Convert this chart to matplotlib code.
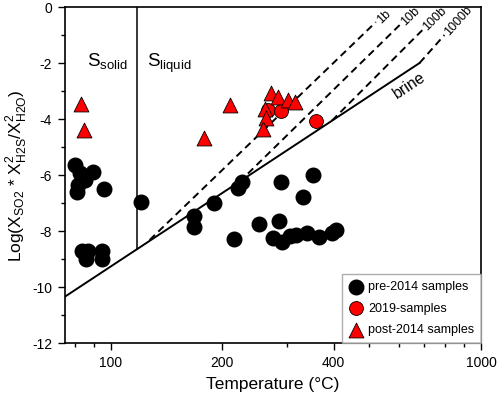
import numpy as np
import matplotlib
matplotlib.use("Agg")
import matplotlib.pyplot as plt
from matplotlib.ticker import FixedLocator, NullFormatter, MultipleLocator

plt.rcParams['font.family'] = ['Liberation Sans', 'DejaVu Sans']
plt.rcParams['mathtext.fontset'] = 'custom'
plt.rcParams['mathtext.rm'] = 'Liberation Sans'
plt.rcParams['axes.unicode_minus'] = False

# pre-2014 samples (T in degC, log value)
pre_T = [80.2, 82.7, 85.3, 89.6, 81.7, 81.2, 95.9,
         83.7, 86.9, 85.8, 94.8, 94.8,
         120.6, 167.5, 168.5, 190.7, 221.2, 226.8, 215.9,
         252.0, 285.2, 288.8, 330.9, 352.0,
         274.8, 290.6, 305.2, 316.8, 339.1, 365.2, 395.8, 405.7]
pre_v = [-5.63, -5.92, -6.17, -5.88, -6.35, -6.60, -6.49,
         -8.70, -8.70, -8.99, -8.70, -8.99,
         -6.95, -7.45, -7.85, -6.99, -6.45, -6.24, -8.28,
         -7.74, -7.63, -6.24, -6.78, -5.99,
         -8.24, -8.38, -8.17, -8.13, -8.06, -8.20, -8.06, -7.95]

# 2019 samples
s2019_T = [266.4, 288.8, 358.6]
s2019_v = [-3.67, -3.70, -4.06]

# post-2014 samples
post_T = [83.2, 84.8, 179.3, 210.6, 271.4, 283.4, 301.6, 314.9, 261.6, 263.2, 258.4]
post_v = [-3.45, -4.38, -4.67, -3.49, -3.06, -3.20, -3.31, -3.38, -3.63, -3.95, -4.35]

# brine line and pressure lines
brine_T = [75.2, 682.5]
brine_v = [-10.34, -1.99]
sulfur_melt_T = 118.0

press_lines = {
    '1b': ([127.5, 520.0], [-8.31, -0.53]),
    '10b': ([222.6, 606.8], [-6.24, -0.60]),
    '100b': ([395.8, 695.0], [-4.05, -0.81]),
    '1000b': ([682.5, 796.7], [-1.99, -0.99]),
}

fig = plt.figure(figsize=(4.98, 3.98), dpi=100)
ax = fig.add_axes([0.1299, 0.1374, 0.836, 0.8443])
ax.set_xscale('log')
ax.set_xlim(75.2, 1000)
ax.set_ylim(-12, 0)

# brine line
ax.plot(brine_T, brine_v, color='black', linewidth=1.4, zorder=2)

# solid/liquid boundary
melt_v = np.interp(np.log10(sulfur_melt_T), np.log10(brine_T), brine_v)
ax.plot([sulfur_melt_T, sulfur_melt_T], [0, melt_v], color='black', linewidth=1.1, zorder=2)

for name, (tt, vv) in press_lines.items():
    ax.plot(tt, vv, color='black', linewidth=1.4, linestyle=(0, (3.8, 2.4)), zorder=2)

fig.canvas.draw()
for name, (tt, vv) in press_lines.items():
    p0 = ax.transData.transform((tt[0], vv[0]))
    p1 = ax.transData.transform((tt[1], vv[1]))
    ang = np.degrees(np.arctan2(p1[1] - p0[1], p1[0] - p0[0]))
    ax.annotate(name, (tt[1], vv[1]), xytext=(2, 0.5), textcoords='offset points',
                rotation=ang, rotation_mode='anchor', ha='left', va='center', fontsize=9)

p0 = ax.transData.transform((brine_T[0], brine_v[0]))
p1 = ax.transData.transform((brine_T[1], brine_v[1]))
bang = np.degrees(np.arctan2(p1[1] - p0[1], p1[0] - p0[0]))
ax.text(640, -2.78, 'brine', rotation=bang, rotation_mode='anchor',
        ha='center', va='center', fontsize=11.5)

ax.text(86.4, -2.13, r'S$_{\mathregular{solid}}$', fontsize=13.5, ha='left', va='baseline')
ax.text(125.2, -2.13, r'S$_{\mathregular{liquid}}$', fontsize=13.5, ha='left', va='baseline')

ax.scatter(pre_T, pre_v, s=110, color='black', zorder=3, label='pre-2014 samples')
ax.scatter(s2019_T, s2019_v, s=100, color='red', edgecolors='black', linewidths=0.6,
           zorder=4, label='2019-samples')
ax.scatter(post_T, post_v, s=115, marker='^', color='red', edgecolors='black',
           linewidths=0.6, zorder=4, label='post-2014 samples')

ax.xaxis.set_major_locator(FixedLocator([100, 200, 400, 1000]))
ax.xaxis.set_minor_locator(FixedLocator([80, 90, 300, 500, 600, 700, 800, 900]))
ax.set_xticklabels(['100', '200', '400', '1000'])
ax.xaxis.set_minor_formatter(NullFormatter())
ax.yaxis.set_major_locator(MultipleLocator(2))
ax.yaxis.set_minor_locator(MultipleLocator(1))

ax.tick_params(which='both', direction='out', top=False, right=False, labelsize=10, width=1)
ax.tick_params(which='major', length=5, pad=4)
ax.tick_params(which='minor', length=3)
for s in ax.spines.values():
    s.set_linewidth(1.2)

ax.set_xlabel('Temperature (°C)', fontsize=12.5, labelpad=5)
ax.set_ylabel(r'Log(X$_{\mathregular{SO2}}$ * X$^{\mathregular{2}}_{\mathregular{H2S}}$/X$^{\mathregular{2}}_{\mathregular{H2O}}$)',
              fontsize=12.5, labelpad=2)

leg = ax.legend(loc='lower right', borderaxespad=0, fancybox=False, edgecolor='#999999',
                fontsize=9, handlelength=1.0, handletextpad=0.5, labelspacing=0.78,
                borderpad=0.55, scatterpoints=1)
leg.get_frame().set_linewidth(1.0)

fig.savefig('out.png', dpi=100)
